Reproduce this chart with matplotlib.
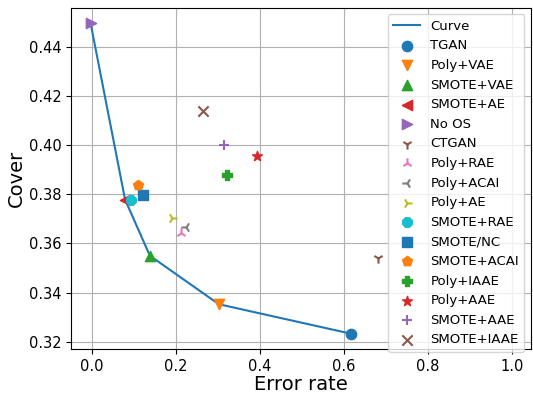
import numpy as np
import matplotlib
matplotlib.use('Agg')
import matplotlib.pyplot as plt

# 各方法的 (错误率, 覆盖率)
methods = ['TGAN', 'Poly+VAE', 'SMOTE+VAE', 'SMOTE+AE', 'No OS', 'CTGAN',
           'Poly+RAE', 'Poly+ACAI', 'Poly+AE', 'SMOTE+RAE', 'SMOTE/NC',
           'SMOTE+ACAI', 'Poly+IAAE', 'Poly+AAE', 'SMOTE+AAE', 'SMOTE+IAAE']
error_rate = [0.617, 0.302, 0.138, 0.079, -0.003, 0.681,
              0.211, 0.225, 0.190, 0.094, 0.122,
              0.109, 0.322, 0.392, 0.315, 0.265]
cover = [0.3233, 0.3353, 0.3550, 0.3778, 0.4494, 0.3542,
         0.3641, 0.3668, 0.3703, 0.3776, 0.3798,
         0.3836, 0.3878, 0.3954, 0.4000, 0.4137]
markers = ['o', 'v', '^', '<', '>', '1', '2', '3', '4', '8', 's', 'p', 'P', '*', '+', 'x']

# Pareto 曲线
curve_x = [-0.003, 0.079, 0.138, 0.302, 0.617]
curve_y = [0.4494, 0.3778, 0.3550, 0.3353, 0.3233]

fig = plt.figure(figsize=(5.33, 3.94), dpi=100)
ax = fig.add_axes([0.133, 0.113, 0.863, 0.867])

ax.plot(curve_x, curve_y, color='C0', linewidth=1.5, label='Curve')
for i, name in enumerate(methods):
    ax.scatter(error_rate[i], cover[i], marker=markers[i], color='C%d' % (i % 10),
               s=55, label=name, zorder=3)

ax.set_xlim(-0.05, 1.045)
ax.set_ylim(0.3169, 0.4557)
ax.set_xticks([0.0, 0.2, 0.4, 0.6, 0.8, 1.0])
ax.set_yticks([0.32, 0.34, 0.36, 0.38, 0.40, 0.42, 0.44])
ax.tick_params(labelsize=10.5, pad=3)
ax.set_xlabel('Error rate', fontsize=14, labelpad=1)
ax.set_ylabel('Cover', fontsize=14, labelpad=2)
ax.grid(True)
ax.legend(loc='upper right', fontsize=9.5)

fig.savefig('out.png', dpi=100)
